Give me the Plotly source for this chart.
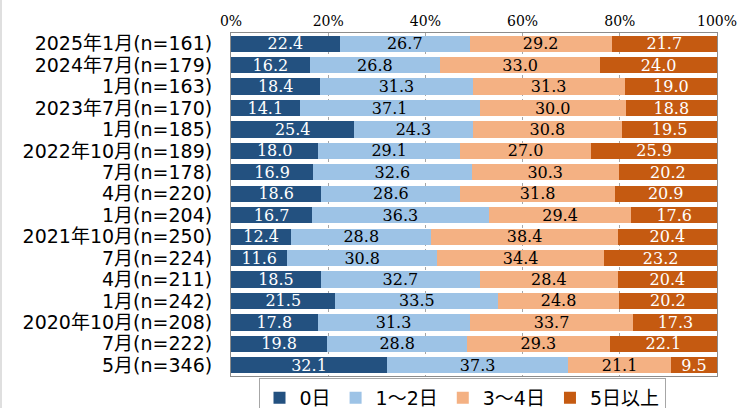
import plotly.graph_objects as go

# Survey waves (top to bottom) and share of respondents per answer band (%)
categories = [
    "2025年1月(n=161)", "2024年7月(n=179)", "1月(n=163)", "2023年7月(n=170)",
    "1月(n=185)", "2022年10月(n=189)", "7月(n=178)", "4月(n=220)",
    "1月(n=204)", "2021年10月(n=250)", "7月(n=224)", "4月(n=211)",
    "1月(n=242)", "2020年10月(n=208)", "7月(n=222)", "5月(n=346)",
]
days_0 = [22.4, 16.2, 18.4, 14.1, 25.4, 18.0, 16.9, 18.6, 16.7, 12.4, 11.6, 18.5, 21.5, 17.8, 19.8, 32.1]
days_1_2 = [26.7, 26.8, 31.3, 37.1, 24.3, 29.1, 32.6, 28.6, 36.3, 28.8, 30.8, 32.7, 33.5, 31.3, 28.8, 37.3]
days_3_4 = [29.2, 33.0, 31.3, 30.0, 30.8, 27.0, 30.3, 31.8, 29.4, 38.4, 34.4, 28.4, 24.8, 33.7, 29.3, 21.1]
days_5_plus = [21.7, 24.0, 19.0, 18.8, 19.5, 25.9, 20.2, 20.9, 17.6, 20.4, 23.2, 20.4, 20.2, 17.3, 22.1, 9.5]
series_names = ["0日", "1～2日", "3～4日", "5日以上"]
tick_values = [0, 20, 40, 60, 80, 100]
tick_labels = ["0%", "20%", "40%", "60%", "80%", "100%"]

series = [days_0, days_1_2, days_3_4, days_5_plus]
fills = ["#235180", "#9DC3E6", "#F4B183", "#C55A11"]
text_colors = ["white", "black", "black", "white"]

SERIF = "DejaVu Serif"
SANS = "DejaVu Sans, Noto Sans CJK JP"

fig = go.Figure()
for name, vals, fill, tc in zip(series_names, series, fills, text_colors):
    fig.add_trace(go.Bar(
        y=categories,
        x=vals,
        name=name,
        orientation="h",
        marker=dict(color=fill, line=dict(width=0)),
        text=[f"{v:.1f}" for v in vals],
        textposition="inside",
        insidetextanchor="middle",
        textangle=0,
        textfont=dict(family=SERIF, size=16, color=tc),
        hoverinfo="skip",
    ))

ML, MR, MT, MB = 231, 24, 33, 32
W, H = 741, 408
pw, ph = W - ML - MR, H - MT - MB

fig.update_layout(
    width=W, height=H,
    margin=dict(l=ML, r=MR, t=MT, b=MB, autoexpand=False),
    barmode="stack",
    bargap=0.24,
    paper_bgcolor="white",
    plot_bgcolor="white",
    uniformtext=dict(minsize=16, mode="show"),
    showlegend=True,
    legend=dict(
        orientation="h",
        xref="container", yref="container",
        x=462 / W, xanchor="center",
        y=(H - 378) / H, yanchor="top",
        font=dict(family=SANS, size=19, color="black"),
        bordercolor="#A6A6A6", borderwidth=1,
        bgcolor="white",
        itemwidth=30,
        traceorder="normal",
    ),
    xaxis=dict(
        side="top",
        range=[0, 100],
        tickvals=tick_values,
        ticktext=tick_labels,
        tickfont=dict(family=SERIF, size=14, color="black"),
        showgrid=True,
        gridcolor="#A6A6A6",
        griddash="dot",
        gridwidth=1,
        showline=True, mirror=True, linecolor="#8C8C8C", linewidth=1,
        ticks="", zeroline=False,
        fixedrange=True,
    ),
    yaxis=dict(
        categoryorder="array",
        categoryarray=categories[::-1],
        tickmode="array",
        tickvals=categories,
        ticktext=categories,
        autorange=False,
        range=[-0.5, len(categories) - 0.5],
        tickfont=dict(family=SANS, size=19, color="black"),
        showline=True, mirror=True, linecolor="#8C8C8C", linewidth=1,
        ticks="", ticklabelstandoff=14,
        showgrid=False, zeroline=False,
        fixedrange=True,
    ),
    shapes=[dict(
        type="line", xref="paper", yref="paper",
        x0=-(ML - 1) / pw, x1=-(ML - 1) / pw,
        y0=-MB / ph, y1=1 + MT / ph,
        line=dict(color="#BFBFBF", width=1),
    )],
)

fig.write_html("out.html")
